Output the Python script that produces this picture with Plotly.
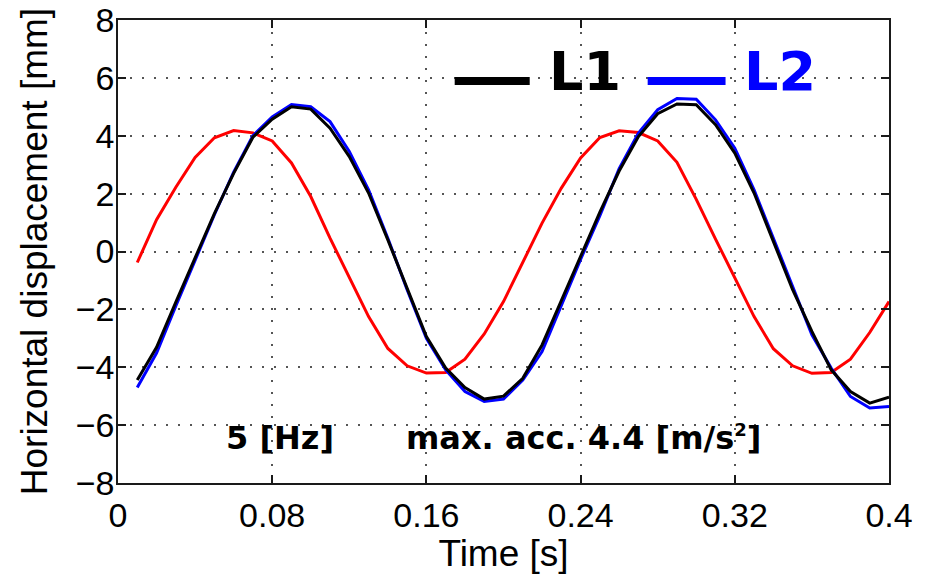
import plotly.graph_objects as go

time_s = [round(0.01 * i, 2) for i in range(1, 41)]

l1_mm = [-4.44, -3.31, -1.75, -0.20, 1.31, 2.70, 3.95, 4.57, 5.00, 4.92,
         4.26, 3.28, 2.02, 0.40, -1.30, -2.94, -4.03, -4.70, -5.10, -5.00,
         -4.38, -3.23, -1.70, -0.20, 1.36, 2.78, 3.97, 4.76, 5.10, 5.07,
         4.38, 3.40, 2.02, 0.35, -1.32, -2.76, -4.09, -4.84, -5.24, -5.03]

l2_mm = [-4.70, -3.51, -1.88, -0.28, 1.27, 2.74, 4.00, 4.65, 5.08, 5.00,
         4.49, 3.46, 2.13, 0.46, -1.32, -3.00, -4.09, -4.84, -5.18, -5.10,
         -4.44, -3.46, -1.85, -0.27, 1.24, 2.86, 4.09, 4.90, 5.29, 5.26,
         4.55, 3.57, 2.13, 0.46, -1.27, -2.88, -4.03, -5.01, -5.41, -5.36]

input_mm = [-0.38, 1.10, 2.22, 3.25, 3.93, 4.18, 4.10, 3.82, 3.06, 1.90,
            0.46, -0.92, -2.25, -3.35, -3.95, -4.20, -4.18, -3.72, -2.85, -1.73,
            -0.40, 0.98, 2.19, 3.23, 3.94, 4.17, 4.11, 3.82, 3.08, 1.80,
            0.43, -0.92, -2.25, -3.36, -3.95, -4.21, -4.18, -3.72, -2.80, -1.73]

x_ticks = [0, 0.08, 0.16, 0.24, 0.32, 0.4]
x_tick_labels = ["0", "0.08", "0.16", "0.24", "0.32", "0.4"]
y_ticks = [8, 6, 4, 2, 0, -2, -4, -6, -8]
y_tick_labels = ["8", "6", "4", "2", "0", "\u22122", "\u22124", "\u22126", "\u22128"]

fig = go.Figure()
fig.add_trace(go.Scatter(x=time_s, y=input_mm, mode="lines", name="input",
                         line=dict(color="#ff0000", width=3), showlegend=False))
fig.add_trace(go.Scatter(x=time_s, y=l2_mm, mode="lines", name="L2",
                         line=dict(color="#0000ff", width=3), showlegend=False))
fig.add_trace(go.Scatter(x=time_s, y=l1_mm, mode="lines", name="L1",
                         line=dict(color="#000000", width=3), showlegend=False))

# manual legend (large MATLAB-style legend)
fig.add_shape(type="line", xref="paper", yref="paper", x0=0.4367, x1=0.534,
              y0=0.8683, y1=0.8683, line=dict(color="#000000", width=8))
fig.add_shape(type="line", xref="paper", yref="paper", x0=0.687, x1=0.788,
              y0=0.8683, y1=0.8683, line=dict(color="#0000ff", width=8))
fig.add_annotation(xref="paper", yref="paper", x=0.556, y=0.888, text="<b>L1</b>",
                   showarrow=False, xanchor="left", yanchor="middle",
                   font=dict(family="DejaVu Sans", size=54, color="#000000"))
fig.add_annotation(xref="paper", yref="paper", x=0.809, y=0.888, text="<b>L2</b>",
                   showarrow=False, xanchor="left", yanchor="middle",
                   font=dict(family="DejaVu Sans", size=54, color="#0000ff"))

fig.add_annotation(xref="paper", yref="paper", x=0.137, y=0.0978, text="<b>5 [Hz]</b>",
                   showarrow=False, xanchor="left", yanchor="middle",
                   font=dict(family="DejaVu Sans", size=32, color="#000000"))
fig.add_annotation(xref="paper", yref="paper", x=0.3715, y=0.0978,
                   text="<b>max. acc. 4.4 [m/s<sup><span style='font-size:18px'>2</span></sup>]</b>",
                   showarrow=False, xanchor="left", yanchor="middle",
                   font=dict(family="DejaVu Sans", size=32, color="#000000"))

# y-axis title placed as rotated text at the left
fig.add_annotation(xref="paper", yref="paper", x=-0.108, y=0.5,
                   text="Horizontal displacement [mm]", textangle=-90,
                   showarrow=False, xanchor="center", yanchor="middle",
                   font=dict(family="Liberation Sans", size=37, color="#000000"))

axis_common = dict(
    showline=True, linecolor="#1a1a1a", linewidth=1.5, mirror="allticks",
    ticks="inside", ticklen=8, tickwidth=1.5, tickcolor="#1a1a1a",
    showgrid=True, gridcolor="#555555", griddash="1.5px,10.5px", gridwidth=1.5,
    zeroline=False,
    tickfont=dict(family="Liberation Sans", size=34, color="#000000"),
)

fig.update_xaxes(range=[0, 0.4], tickvals=x_ticks, ticktext=x_tick_labels,
                 ticklabelstandoff=1,
                 title=dict(text="Time [s]", standoff=0,
                            font=dict(family="Liberation Sans", size=37, color="#000000")),
                 **axis_common)
fig.update_yaxes(range=[-8, 8], tickvals=y_ticks, ticktext=y_tick_labels,
                 ticklabelstandoff=-5, **axis_common)

fig.update_layout(
    width=930, height=574,
    margin=dict(l=118, r=41, t=20, b=91, autoexpand=False),
    paper_bgcolor="#ffffff", plot_bgcolor="#ffffff",
    showlegend=False,
)

fig.write_html("out.html", config={"displayModeBar": False},
               post_script="document.body.style.margin='0';document.body.style.padding='0';")
